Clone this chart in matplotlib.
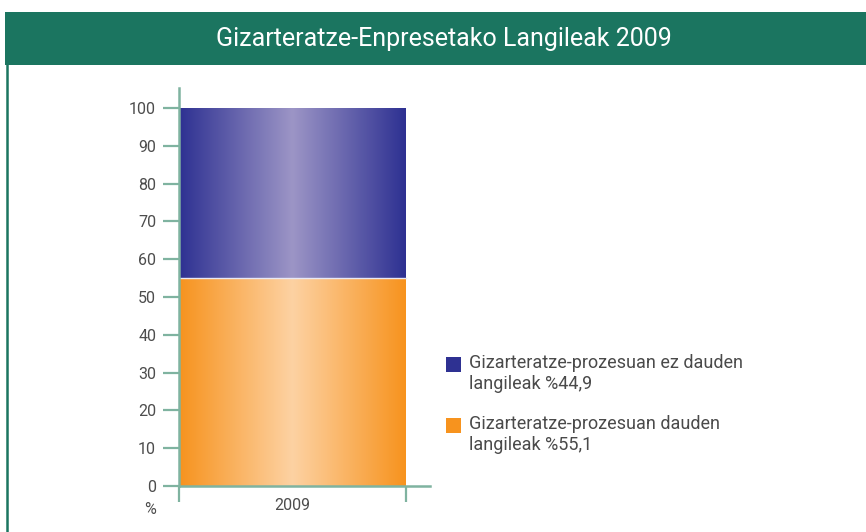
import numpy as np
import matplotlib
matplotlib.use("Agg")
import matplotlib.pyplot as plt
from matplotlib.patches import Rectangle
from matplotlib.colors import to_rgb

plt.rcParams['font.family'] = ['Roboto', 'DejaVu Sans']

title = "Gizarteratze-Enpresetako Langileak 2009"
category = "2009"
series_labels = ["Gizarteratze-prozesuan ez dauden\nlangileak %44,9",
                 "Gizarteratze-prozesuan dauden\nlangileak %55,1"]
values_not = [44.9]   # top segment (blue)
values_in = [55.1]    # bottom segment (orange)
edge_colors = ["#2e3192", "#f7931e"]
center_colors = ["#9c95c6", "#fdd2a3"]
yticks = list(range(0, 101, 10))

W, H = 866, 532
fig = plt.figure(figsize=(W / 100, H / 100), dpi=100)

# header band
fig.patches.append(Rectangle((5 / W, 1 - 65 / H), 1 - 5 / W, 53 / H,
                             transform=fig.transFigure, facecolor="#1b7560",
                             edgecolor="none", zorder=0))
fig.text(443.5 / W, 1 - 38.5 / H, title, color="white", fontsize=18,
         ha="center", va="center")
# left border
fig.add_artist(plt.Line2D([7 / W, 7 / W], [0, 1 - 65 / H], transform=fig.transFigure,
                          color="#1b7560", linewidth=1.8))

axc = "#7fb3a0"
ax = fig.add_axes([179 / W, 1 - 486 / H, (430 - 179) / W, (486 - 88) / H])
ax.set_xlim(0, 251 / 227)
ax.set_ylim(0, 105.3)

bottoms = [0, values_in[0]]
heights = [values_in[0], values_not[0]]
cols = [edge_colors[1], edge_colors[0]]
cents = [center_colors[1], center_colors[0]]
for b, h, c, cc in zip(bottoms, heights, cols, cents):
    bar = ax.bar([0.5], [h], bottom=[b], width=1.0, color=c, edgecolor="none", zorder=1)[0]
    n = 256
    t = np.linspace(-1, 1, n)
    w = 1 - np.abs(t)
    e = np.array(to_rgb(c)); m = np.array(to_rgb(cc))
    img = (e[None, :] * (1 - w[:, None]) + m[None, :] * w[:, None])[None, :, :]
    x0 = bar.get_x(); x1 = x0 + bar.get_width()
    y0 = bar.get_y(); y1 = y0 + bar.get_height()
    im = ax.imshow(img, extent=[x0, x1, y0, y1], aspect="auto", zorder=2,
                   interpolation="bilinear")
    im.set_clip_path(bar)

# thin separator between segments
ax.plot([0, 1], [values_in[0], values_in[0]], color="#e8e8f4", linewidth=1.0, zorder=3)

for s in ["top", "right"]:
    ax.spines[s].set_visible(False)
for s in ["left", "bottom"]:
    ax.spines[s].set_color(axc)
    ax.spines[s].set_linewidth(1.8)
    ax.spines[s].set_zorder(4)

ax.set_yticks(yticks)
ax.set_yticklabels([str(v) for v in yticks])
ax.tick_params(axis="y", direction="out", length=11.5, width=1.6, color=axc,
               labelsize=11.5, labelcolor="#4d4d4d", pad=5)
ax.set_xticks([0, 1])
ax.set_xticklabels(["", ""])
ax.tick_params(axis="x", which="major", direction="out", length=11.5, width=1.6, color=axc)
ax.set_xticks([0.5], minor=True)
ax.set_xticklabels([category], minor=True)
ax.tick_params(axis="x", which="minor", length=0, labelsize=11.5, labelcolor="#4d4d4d", pad=9)
ax.patch.set_alpha(0)

fig.text(150 / W, 1 - 510 / H, "%", fontsize=11.5, color="#4d4d4d", ha="center", va="center")

# legend (manual)
leg_items = [(series_labels[0], edge_colors[0], 357), (series_labels[1], edge_colors[1], 418)]
for lab, c, ytop in leg_items:
    fig.patches.append(Rectangle((446 / W, 1 - (ytop + 15) / H), 15 / W, 15 / H,
                                 transform=fig.transFigure, facecolor=c, edgecolor="none"))
    fig.text(469 / W, 1 - (ytop - 3) / H, lab, fontsize=13, color="#4a4a4a",
             ha="left", va="top", linespacing=1.2)

fig.savefig("out.png", dpi=100)
